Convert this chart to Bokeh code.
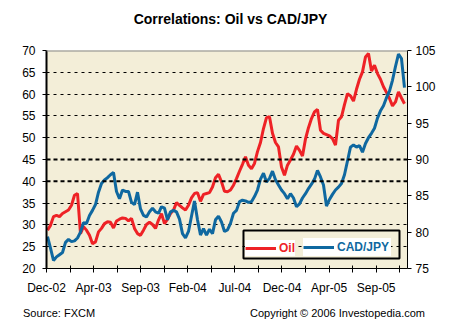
from bokeh.plotting import figure
from bokeh.layouts import column
from bokeh.models import (Range1d, LinearAxis, FixedTicker, Span, Legend, LegendItem,
                          Div, BoxAnnotation)
from bokeh.core.properties import value
from bokeh.embed import file_html
from bokeh.resources import INLINE

# ---- data ----
oil = [28.8, 29.9, 31.9, 32.2, 31.9, 32.6, 33.0, 33.4, 34.5, 36.8,
       37.2, 28.0, 29.6, 28.8, 27.6, 25.7, 26.1, 28.4, 29.2, 30.3,
       30.7, 30.6, 29.3, 30.9, 31.3, 31.6, 31.5, 30.9, 31.5, 29.2, 28.0,
       27.6, 28.8, 30.1, 30.6, 30.1, 29.2, 31.1, 32.6, 30.3, 31.3,
       32.6, 33.4, 35.1, 34.5, 33.9, 33.4, 34.5, 36.2, 37.2, 37.4,
       35.4, 37.0, 37.2, 37.4, 38.7, 40.8, 41.6, 39.9, 37.7, 37.6, 38.0,
       39.1, 40.6, 42.3, 43.9, 45.6, 43.7, 42.9, 44.1, 46.8, 48.9,
       52.1, 54.6, 54.8, 51.0, 48.9, 47.9, 43.3, 41.4, 43.7, 44.9,
       46.2, 48.1, 47.1, 45.8, 49.7, 52.3, 54.4, 55.9, 56.5, 51.7,
       51.0, 50.7, 50.4, 49.8, 48.3, 54.0, 54.8, 57.6, 60.1, 59.6,
       58.4, 61.1, 63.4, 65.1, 68.5, 69.3, 65.3, 66.6, 64.7, 63.4,
       61.7, 60.4, 59.0, 57.3, 58.2, 60.5, 59.1, 57.8]

cadjpy = [79.4, 77.8, 76.1, 76.6, 76.9, 77.2, 78.6, 79.0, 78.7, 78.8,
          79.2, 80.0, 81.3, 81.2, 82.3, 83.0, 83.8, 85.5, 86.7, 87.2,
          87.5, 87.9, 88.2, 85.6, 84.6, 85.8, 85.6, 85.6, 84.1, 83.8, 85.5,
          83.2, 82.3, 82.1, 82.8, 83.3, 82.8, 82.6, 83.5, 83.3, 81.7,
          82.8, 83.0, 82.8, 81.8, 79.8, 79.2, 80.1, 82.2, 84.3, 81.7,
          79.6, 80.5, 79.6, 80.4, 79.8, 81.7, 82.2, 81.4, 80.1, 80.3, 81.2,
          82.6, 83.0, 84.2, 84.4, 84.3, 84.1, 84.2, 84.9, 85.8, 87.3,
          88.1, 86.9, 87.4, 88.4, 87.2, 86.5, 85.8, 85.3, 84.6, 85.3,
          84.7, 83.5, 83.9, 84.7, 85.3, 86.0, 86.6, 87.3, 88.5, 87.6,
          86.5, 83.6, 84.5, 85.2, 85.8, 86.2, 86.7, 87.9, 89.8, 91.7,
          92.0, 91.7, 91.9, 91.0, 92.2, 93.0, 93.6, 94.3, 95.7, 96.7,
          97.4, 98.5, 99.4, 100.9, 102.8, 104.5, 103.9, 99.9]

month_labels = ["Dec-02", "", "Apr-03", "", "Sep-03", "", "Feb-04", "",
                "Jul-04", "", "Dec-04", "", "Apr-05", "", "Sep-05", ""]
oil_ticks = [20, 25, 30, 35, 40, 45, 50, 55, 60, 65, 70]
cad_ticks = [75, 80, 85, 90, 95, 100, 105]
grid_levels = [25, 30, 35, 50, 55, 60, 65]
strong_levels = [40, 45]
series_names = ["Oil", "CAD/JPY"]
title_text = "Correlations: Oil vs CAD/JPY"
source_text = "Source: FXCM"
copyright_text = "Copyright \u00a9 2006 Investopedia.com"

points_per_tick = 7.85
x = [(i + 1.0 / 3.0) / points_per_tick for i in range(len(oil))]

RED = "#EE2226"
BLUE = "#0F68A0"
FONT = "Liberation Sans"
W = 463
HEAD_H = 42
FOOT_H = 26
MAIN_H = 327 - HEAD_H - FOOT_H
FRAME_L, FRAME_R = 46, 407

# ---- header ----
head = figure(width=W, height=HEAD_H, output_backend="svg", toolbar_location=None,
              title=None, x_range=Range1d(FRAME_L, FRAME_R), y_range=Range1d(0, HEAD_H),
              x_axis_type=None, y_axis_type=None, min_border=0,
              min_border_left=FRAME_L, min_border_right=W - FRAME_R,
              min_border_top=0, min_border_bottom=0,
              outline_line_color=None, background_fill_color="white",
              border_fill_color="white")
head.grid.visible = False
head.text(x=[230], y=[HEAD_H - 18], text=[title_text], text_align="center",
          text_baseline="middle", text_font=value(FONT),
          text_font_size=value("14px"), text_font_style="bold",
          text_color="black")

# ---- main chart ----
p = figure(width=W, height=MAIN_H, output_backend="svg", toolbar_location=None,
           title=None,
           x_range=Range1d(0, 15.33), y_range=Range1d(20, 70),
           min_border_left=FRAME_L, min_border_right=W - FRAME_R, min_border_top=8,
           min_border_bottom=33,
           background_fill_color="#F3EED8", border_fill_color="white",
           outline_line_color=None)
p.extra_y_ranges = {"cad": Range1d(75, 105)}

p.xgrid.visible = False
p.ygrid.ticker = FixedTicker(ticks=grid_levels)
p.ygrid.grid_line_color = "black"
p.ygrid.grid_line_dash = "3 4"
p.ygrid.grid_line_width = 1
for lv in strong_levels:
    p.add_layout(Span(location=lv, dimension="width", line_color="black",
                      line_width=2, line_dash="4 3"))
p.add_layout(Span(location=70, dimension="width", line_color="#888888", line_width=2))

xa = p.xaxis[0]
xa.ticker = FixedTicker(ticks=list(range(len(month_labels))))
xa.major_label_overrides = {i: lab for i, lab in enumerate(month_labels)}
xa.major_tick_in = 3
xa.major_tick_out = 4
xa.minor_tick_line_color = None
xa.axis_line_color = "black"
xa.major_tick_line_color = "black"
xa.major_label_standoff = 8
xa.major_label_text_font = FONT
xa.major_label_text_font_size = "12px"
xa.major_label_text_color = "black"

ya = p.yaxis[0]
ya.ticker = FixedTicker(ticks=oil_ticks)
ya.major_tick_in = 0
ya.major_tick_out = 4
ya.minor_tick_line_color = None
ya.axis_line_width = 2
ya.axis_line_color = "black"
ya.major_tick_line_color = "black"
ya.major_label_standoff = 7
ya.major_label_text_font = FONT
ya.major_label_text_font_size = "12px"
ya.major_label_text_color = "black"

ra = LinearAxis(y_range_name="cad", ticker=FixedTicker(ticks=cad_ticks))
ra.major_tick_in = 0
ra.major_tick_out = 4
ra.minor_tick_line_color = None
ra.axis_line_color = "black"
ra.major_tick_line_color = "black"
ra.major_label_standoff = 4
ra.major_label_text_font = FONT
ra.major_label_text_font_size = "12px"
ra.major_label_text_color = "black"
p.add_layout(ra, "right")

r_oil = p.line(x, oil, line_color=RED, line_width=3)
r_cad = p.line(x, cadjpy, line_color=BLUE, line_width=3, y_range_name="cad")

common = dict(orientation="horizontal", glyph_width=31, label_standoff=3,
              label_text_font=FONT, label_text_font_size="12px",
              label_text_font_style="bold", background_fill_color="white",
              background_fill_alpha=1, border_line_color=None, margin=0)
# left part of the legend: Oil (red label)
legend_oil = Legend(items=[LegendItem(label=series_names[0], renderers=[r_oil])],
                    location=(199, 12), padding=4, glyph_height=16,
                    label_height=16, label_width=16, label_text_color=RED,
                    **common)
p.add_layout(legend_oil)
# right part of the legend: CAD/JPY (blue label)
legend_cad = Legend(items=[LegendItem(label=series_names[1], renderers=[r_cad])],
                    location=(257, 12), padding=3, glyph_height=18,
                    label_height=18, label_width=54, label_text_color=BLUE,
                    **common)
p.add_layout(legend_cad)
# frame drawn just outside both parts (data units of the main axes)
p.add_layout(BoxAnnotation(left=8.365, right=14.99, top=28.72, bottom=22.29,
                           fill_alpha=0, line_color="black", line_width=2,
                           line_alpha=1))

# ---- footer ----
foot = Div(text=(
    '<div style="position:relative;width:%dpx;height:%dpx;'
    'font-family:\'Liberation Sans\',Arial,sans-serif;font-size:11px;color:black;">'
    '<span style="position:absolute;left:23px;top:5px;white-space:nowrap;">%s</span>'
    '<span style="position:absolute;right:38px;top:5px;white-space:nowrap;">%s</span>'
    '</div>') % (W, FOOT_H, source_text, copyright_text),
    width=W, height=FOOT_H, margin=(0, 0, 0, 0))

layout = column(head, p, foot, spacing=0)
open("out.html", "w").write(file_html(layout, INLINE))
